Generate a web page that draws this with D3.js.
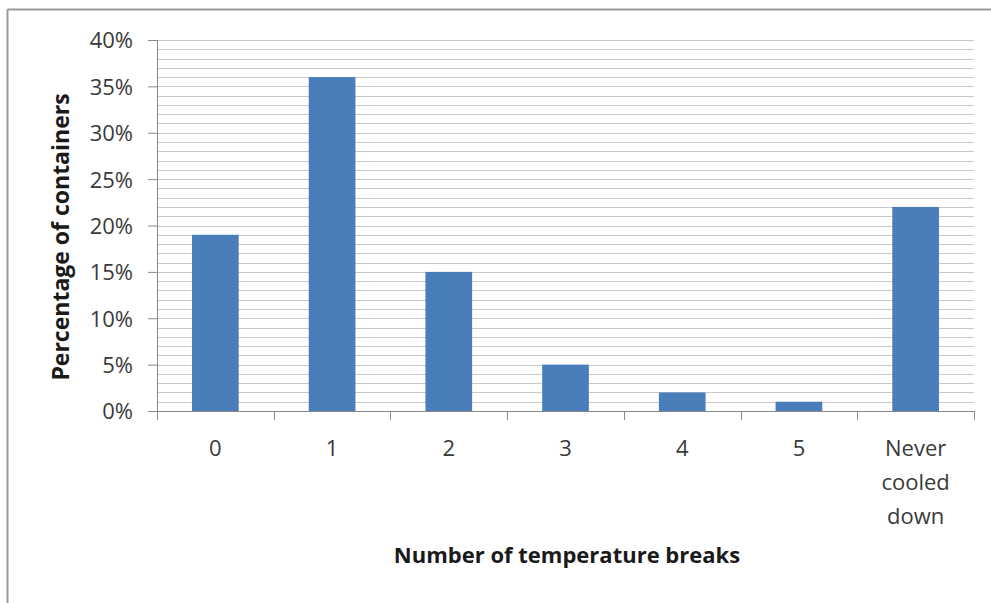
<!DOCTYPE html>
<html lang="en">
<head>
<meta charset="UTF-8">
<title>Temperature breaks</title>
<script src="https://cdn.jsdelivr.net/npm/d3@7"></script>
<style>
  body { margin: 0; background: #fff; }
  svg { display: block; font-family: "Open Sans", "Noto Sans", sans-serif; }
  .tick text { fill: #3a3a3a; font-family: "Open Sans", "Noto Sans", sans-serif; }
</style>
</head>
<body>
<svg id="chart" width="991" height="603"></svg>
<script>
// data
var categories = ["0", "1", "2", "3", "4", "5", "Never cooled down"];
var percentages = [19, 36, 15, 5, 2, 1, 22];
var yTicks = [0, 5, 10, 15, 20, 25, 30, 35, 40];

var svg = d3.select("#chart");
var margin = { left: 157, right: 17, top: 40, bottom: 192 };
var width = 991 - margin.left - margin.right;
var height = 603 - margin.top - margin.bottom;

// outer frame (only top and left visible in the original)
svg.append("line").attr("x1", 7.5).attr("x2", 991).attr("y1", 9.5).attr("y2", 9.5)
  .attr("stroke", "#9a9a9a").attr("stroke-width", 2);
svg.append("line").attr("x1", 7.5).attr("x2", 7.5).attr("y1", 9.5).attr("y2", 603)
  .attr("stroke", "#9a9a9a").attr("stroke-width", 2);

var g = svg.append("g").attr("transform", "translate(" + margin.left + "," + margin.top + ")");

var x = d3.scaleBand().domain(categories).range([0, width]).paddingInner(0.6).paddingOuter(0.3);
var xEdge = d3.scaleLinear().domain([0, categories.length]).range([0, width]);
var y = d3.scaleLinear().domain([0, 40]).range([height, 0]);

// gridlines every 1%
g.append("g")
  .selectAll("line")
  .data(d3.range(1, 41))
  .enter()
  .append("line")
  .attr("x1", 0).attr("x2", width)
  .attr("y1", d => Math.round(y(d)) + 0.5).attr("y2", d => Math.round(y(d)) + 0.5)
  .attr("stroke", "#c9c9c9").attr("stroke-width", 1.2);

// bars
g.append("g")
  .selectAll("rect")
  .data(percentages)
  .enter()
  .append("rect")
  .attr("x", (d, i) => x(categories[i]))
  .attr("y", d => y(d))
  .attr("width", x.bandwidth())
  .attr("height", d => height - y(d))
  .attr("fill", "#4a7ebb");

// y axis
var yAxis = g.append("g")
  .attr("font-family", null)
  .call(d3.axisLeft(y).tickValues(yTicks).tickSize(9).tickPadding(15).tickFormat(d => d + "%"));
yAxis.attr("font-family", null).attr("font-size", null);
yAxis.selectAll("text").attr("font-size", 22).attr("dy", "0.36em");
yAxis.selectAll("line, path").attr("stroke", "#888");
yAxis.select(".domain").attr("d", "M0.5," + height + "V0");

// x axis: line plus ticks at band edges
var xAxisG = g.append("g").attr("transform", "translate(0," + height + ")");
xAxisG.append("line").attr("x1", 0).attr("x2", width).attr("y1", 0.5).attr("y2", 0.5)
  .attr("stroke", "#888");
xAxisG.selectAll(".edge")
  .data(d3.range(0, categories.length + 1))
  .enter()
  .append("line")
  .attr("class", "edge")
  .attr("x1", d => Math.round(xEdge(d)) + 0.5).attr("x2", d => Math.round(xEdge(d)) + 0.5)
  .attr("y1", 0).attr("y2", 9)
  .attr("stroke", "#888");

var labels = xAxisG.selectAll(".xlabel")
  .data(categories)
  .enter()
  .append("text")
  .attr("class", "xlabel")
  .attr("text-anchor", "middle")
  .attr("font-size", 22)
  .attr("fill", "#3a3a3a")
  .attr("transform", d => "translate(" + (x(d) + x.bandwidth() / 2) + ",45)");
labels.each(function(d) {
  var words = d === "Never cooled down" ? d.split(" ") : [d];
  d3.select(this).selectAll("tspan")
    .data(words)
    .enter()
    .append("tspan")
    .attr("x", 0)
    .attr("y", (w, i) => i * 34)
    .text(w => w);
});

// axis titles
svg.append("text")
  .attr("x", 567)
  .attr("y", 563)
  .attr("text-anchor", "middle")
  .attr("font-size", 22)
  .attr("font-weight", "bold")
  .attr("fill", "#1a1a1a")
  .text("Number of temperature breaks");

svg.append("text")
  .attr("transform", "translate(69,237) rotate(-90)")
  .attr("text-anchor", "middle")
  .attr("font-size", 23)
  .attr("font-weight", "bold")
  .attr("fill", "#1a1a1a")
  .text("Percentage of containers");
</script>
</body>
</html>
